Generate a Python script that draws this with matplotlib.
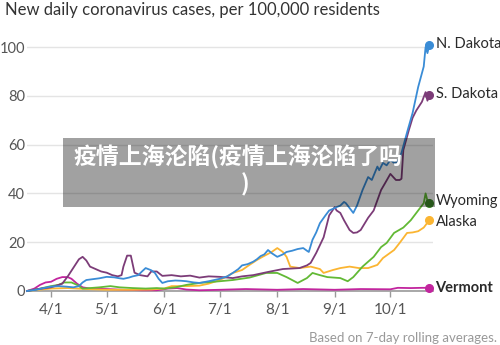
import matplotlib
matplotlib.use("Agg")
import matplotlib.pyplot as plt
import pandas as pd
from matplotlib.patches import Rectangle

# 7-day averages of new daily cases per 100k residents, 2020
nd_dates = ["3/19", "3/24", "3/28", "4/1", "4/5", "4/9", "4/13", "4/16", "4/18", "4/20",
            "4/23", "4/27", "5/1", "5/5", "5/8", "5/10", "5/13", "5/15", "5/18", "5/20",
            "5/22", "5/24", "5/25", "5/27", "5/29", "5/31", "6/3", "6/7", "6/10", "6/13",
            "6/17", "6/20", "6/25", "7/1", "7/5", "7/8", "7/11", "7/13", "7/16", "7/19",
            "7/21", "7/23", "7/25", "7/27", "7/29", "8/1", "8/4", "8/6", "8/9", "8/12",
            "8/15", "8/17", "8/18", "8/20", "8/22", "8/24", "8/27", "8/29", "9/1", "9/2",
            "9/4", "9/6", "9/7", "9/9", "9/11", "9/13", "9/16", "9/19", "9/21", "9/24",
            "9/25", "9/27", "9/29", "10/1", "10/3", "10/5", "10/7", "10/10", "10/13", "10/16",
            "10/19", "10/20", "10/21", "10/22"]
nd_vals = [0, 0.5, 1.2, 1.8, 2, 1.8, 1.5, 2, 3.5, 4.5,
           4.8, 5.2, 5.8, 5.6, 5.2, 5, 5.5, 6, 6.5, 8,
           9.4, 8.8, 8.5, 7.4, 5, 3.3, 4, 4.3, 4.2, 4,
           3.5, 3.3, 4, 5, 6, 7.4, 9, 10.5, 11, 12,
           13, 14.3, 15, 16.8, 15.5, 14, 15, 16, 16.5, 17.2,
           17.6, 16.5, 16, 21, 24, 27.8, 31, 33, 34, 34.4,
           35, 36.5, 36, 34, 32, 35, 41.4, 46.7, 45.5, 51,
           49.5, 52.5, 51.5, 53.7, 52.5, 53, 56.6, 65, 73, 83.6,
           92, 100, 97.5, 100.8]

sd_dates = ["3/19", "3/25", "4/1", "4/5", "4/7", "4/10", "4/13", "4/16", "4/18", "4/20",
            "4/22", "4/25", "4/28", "5/1", "5/4", "5/7", "5/9", "5/10", "5/12", "5/14",
            "5/16", "5/19", "5/23", "5/25", "5/28", "5/31", "6/5", "6/10", "6/15", "6/20",
            "6/25", "7/1", "7/8", "7/13", "7/19", "7/27", "8/4", "8/13", "8/17", "8/19",
            "8/22", "8/26", "8/29", "9/1", "9/2", "9/4", "9/6", "9/9", "9/11", "9/13",
            "9/15", "9/19", "9/22", "9/26", "9/28", "10/1", "10/4", "10/6", "10/7", "10/8",
            "10/11", "10/13", "10/15", "10/18", "10/20", "10/21", "10/22"]
sd_vals = [0, 0.8, 1.5, 2.5, 3, 6, 9.5, 13, 14, 12.5,
           10, 9, 8, 7.5, 6.5, 6, 6.5, 10, 14.5, 14.5,
           7.5, 6.5, 6, 8, 8, 6.2, 6.5, 6, 6.3, 5.5,
           6, 5.8, 5.3, 6, 6.5, 7.8, 9, 9.4, 10.5, 11.5,
           15.6, 22, 31, 34.4, 33, 32, 29, 25, 23.8, 24,
           25, 30, 33, 41.4, 44, 48, 45.5, 45.5, 46, 57.8,
           66, 71, 74, 77.5, 81.5, 78, 80.3]

wy_dates = ["3/19", "3/25", "4/1", "4/5", "4/8", "4/12", "4/15", "4/18", "4/22", "4/27",
            "5/3", "5/8", "5/15", "5/22", "5/28", "6/1", "6/7", "6/13", "6/20", "7/1",
            "7/8", "7/17", "7/26", "8/1", "8/6", "8/12", "8/17", "8/20", "8/24", "8/28",
            "9/4", "9/8", "9/11", "9/16", "9/22", "9/26", "9/29", "10/3", "10/8", "10/12",
            "10/16", "10/19", "10/20", "10/21", "10/22"]
wy_vals = [0, 0.8, 2, 2.5, 3.5, 3.5, 2.5, 1, 1.2, 1.5,
           2, 1.5, 1.2, 1, 1.2, 1, 1.5, 2.5, 3.3, 4,
           4.5, 5.5, 7.4, 7.4, 5.7, 3.3, 5.3, 7.4, 6.5, 5.7,
           5.3, 4, 5.7, 10, 14, 18, 19.7, 23.8, 26, 29,
           33, 36, 40, 37, 36]

ak_dates = ["3/19", "3/25", "4/1", "4/10", "4/20", "5/1", "5/15", "5/25", "6/1", "6/5",
            "6/13", "6/20", "6/25", "7/1", "7/5", "7/8", "7/13", "7/17", "7/21", "7/24",
            "7/29", "8/1", "8/4", "8/6", "8/8", "8/13", "8/19", "8/24", "8/26", "8/31",
            "9/4", "9/9", "9/14", "9/19", "9/24", "9/27", "10/3", "10/6", "10/10", "10/13",
            "10/16", "10/19", "10/22"]
ak_vals = [0, 0.5, 1, 1.2, 0.8, 0.5, 0.5, 0.6, 1, 2,
           2, 2.2, 3, 4.5, 6, 7.4, 8.6, 10.7, 12.7, 14,
           16, 17.6, 16, 14, 10, 9.4, 10, 9, 7.4, 8.6,
           9.4, 10, 9.4, 9.4, 10.7, 13.5, 16.8, 19.7, 23.8, 24,
           24.5, 26, 29]

vt_dates = ["3/19", "3/23", "3/26", "3/29", "4/1", "4/4", "4/7", "4/10", "4/12", "4/15",
            "4/18", "4/22", "5/1", "5/10", "5/20", "5/28", "6/3", "6/8", "6/13", "6/20",
            "7/1", "7/15", "8/1", "8/15", "9/1", "9/15", "10/1", "10/5", "10/12", "10/18",
            "10/22"]
vt_vals = [0, 1, 2.5, 3.5, 3.8, 5, 5.7, 5.7, 5, 3,
           1.5, 1, 0.8, 0.5, 0.3, 0.3, 1, 1.2, 0.6, 0.3,
           0.5, 0.8, 0.5, 0.8, 0.5, 0.8, 0.7, 1.3, 1.2, 1.3,
           1.3]

states = ["Vermont", "Alaska", "Wyoming", "S. Dakota", "N. Dakota"]
colors = ["#c2259e", "#fbb532", "#62b935", "#7c3c78", "#3a8cd6"]
dot_colors = ["#c2259e", "#fbb532", "#3f8a2c", "#7c3c78", "#3a8cd6"]
label_dy = [0, -1.5, 1.5, 1, 1]  # nudges in points for the end labels
series = [(vt_dates, vt_vals), (ak_dates, ak_vals), (wy_dates, wy_vals),
          (sd_dates, sd_vals), (nd_dates, nd_vals)]


def to_dates(lst):
    return pd.to_datetime(["2020/" + s for s in lst], format="%Y/%m/%d")


fig = plt.figure(figsize=(5, 3.45), dpi=100)
ax = fig.add_axes([27 / 500, 1 - 291 / 345, 406 / 500, (291 - 39.7) / 345])

font = "Lato"
for name, col, dcol, dy, (d, v) in zip(states, colors, dot_colors, label_dy, series):
    dd = to_dates(d)
    ax.plot(dd, v, color=col, lw=1.3, clip_on=False, zorder=3, solid_joinstyle="round")
    ax.plot(dd[-1], v[-1], "o", color=dcol, ms=5.5, clip_on=False, zorder=4)
    ax.annotate(name, (dd[-1], v[-1]), xytext=(4.5, dy), textcoords="offset points",
                va="center", ha="left", fontsize=10.5, family=font,
                color="#2a2a2a", fontweight="bold" if name == "Vermont" else "normal",
                annotation_clip=False)

ax.set_xlim(pd.Timestamp("2020-03-19"), pd.Timestamp("2020-10-24"))
ax.set_ylim(0, 103)

ax.set_yticks([0, 20, 40, 60, 80, 100])
ax.grid(axis="y", color="#e4e4e4", lw=1)
ax.set_axisbelow(True)
for s in ["top", "right", "left"]:
    ax.spines[s].set_visible(False)
ax.spines["bottom"].set_color("#9a9a9a")
ax.spines["bottom"].set_linewidth(1.2)

ticks = pd.to_datetime(["2020-04-01", "2020-05-01", "2020-06-01", "2020-07-01",
                        "2020-08-01", "2020-09-01", "2020-10-01"])
ax.set_xticks(ticks)
ax.set_xticklabels([f"{t.month}/{t.day}" for t in ticks])
ax.tick_params(axis="x", length=4.5, width=1, color="#9a9a9a", pad=4,
               labelsize=11, labelcolor="#555555")
ax.tick_params(axis="y", length=0, pad=1.5, labelsize=10.5, labelcolor="#555555")
for lbl in ax.get_xticklabels() + ax.get_yticklabels():
    lbl.set_family(font)

fig.text(5 / 500, 1 - 10 / 345, "New daily coronavirus cases, per 100,000 residents",
         family=font, fontsize=12, color="#333333", va="center", ha="left")
fig.text(497 / 500, 1 - 338 / 345, "Based on 7-day rolling averages.",
         family=font, fontsize=9.5, color="#999999", va="center", ha="right")

# translucent banner across the middle
fig.patches.append(Rectangle((63 / 500, 1 - 207 / 345), 372 / 500, 69 / 345,
                             transform=fig.transFigure, facecolor="black",
                             alpha=0.37, edgecolor="none", zorder=10))
cjk = ["Noto Sans CJK SC", "DejaVu Sans"]
fig.text(238 / 500, 1 - 157 / 345, "疫情上海沦陷(疫情上海沦陷了吗", family=cjk,
         fontsize=16.5, fontweight="bold", color="white", ha="center", va="center",
         zorder=11)
fig.text(245 / 500, 1 - 185 / 345, ")", family=cjk, fontsize=16.5, fontweight="bold",
         color="white", ha="center", va="center", zorder=11)

fig.savefig("out.png", dpi=100)
